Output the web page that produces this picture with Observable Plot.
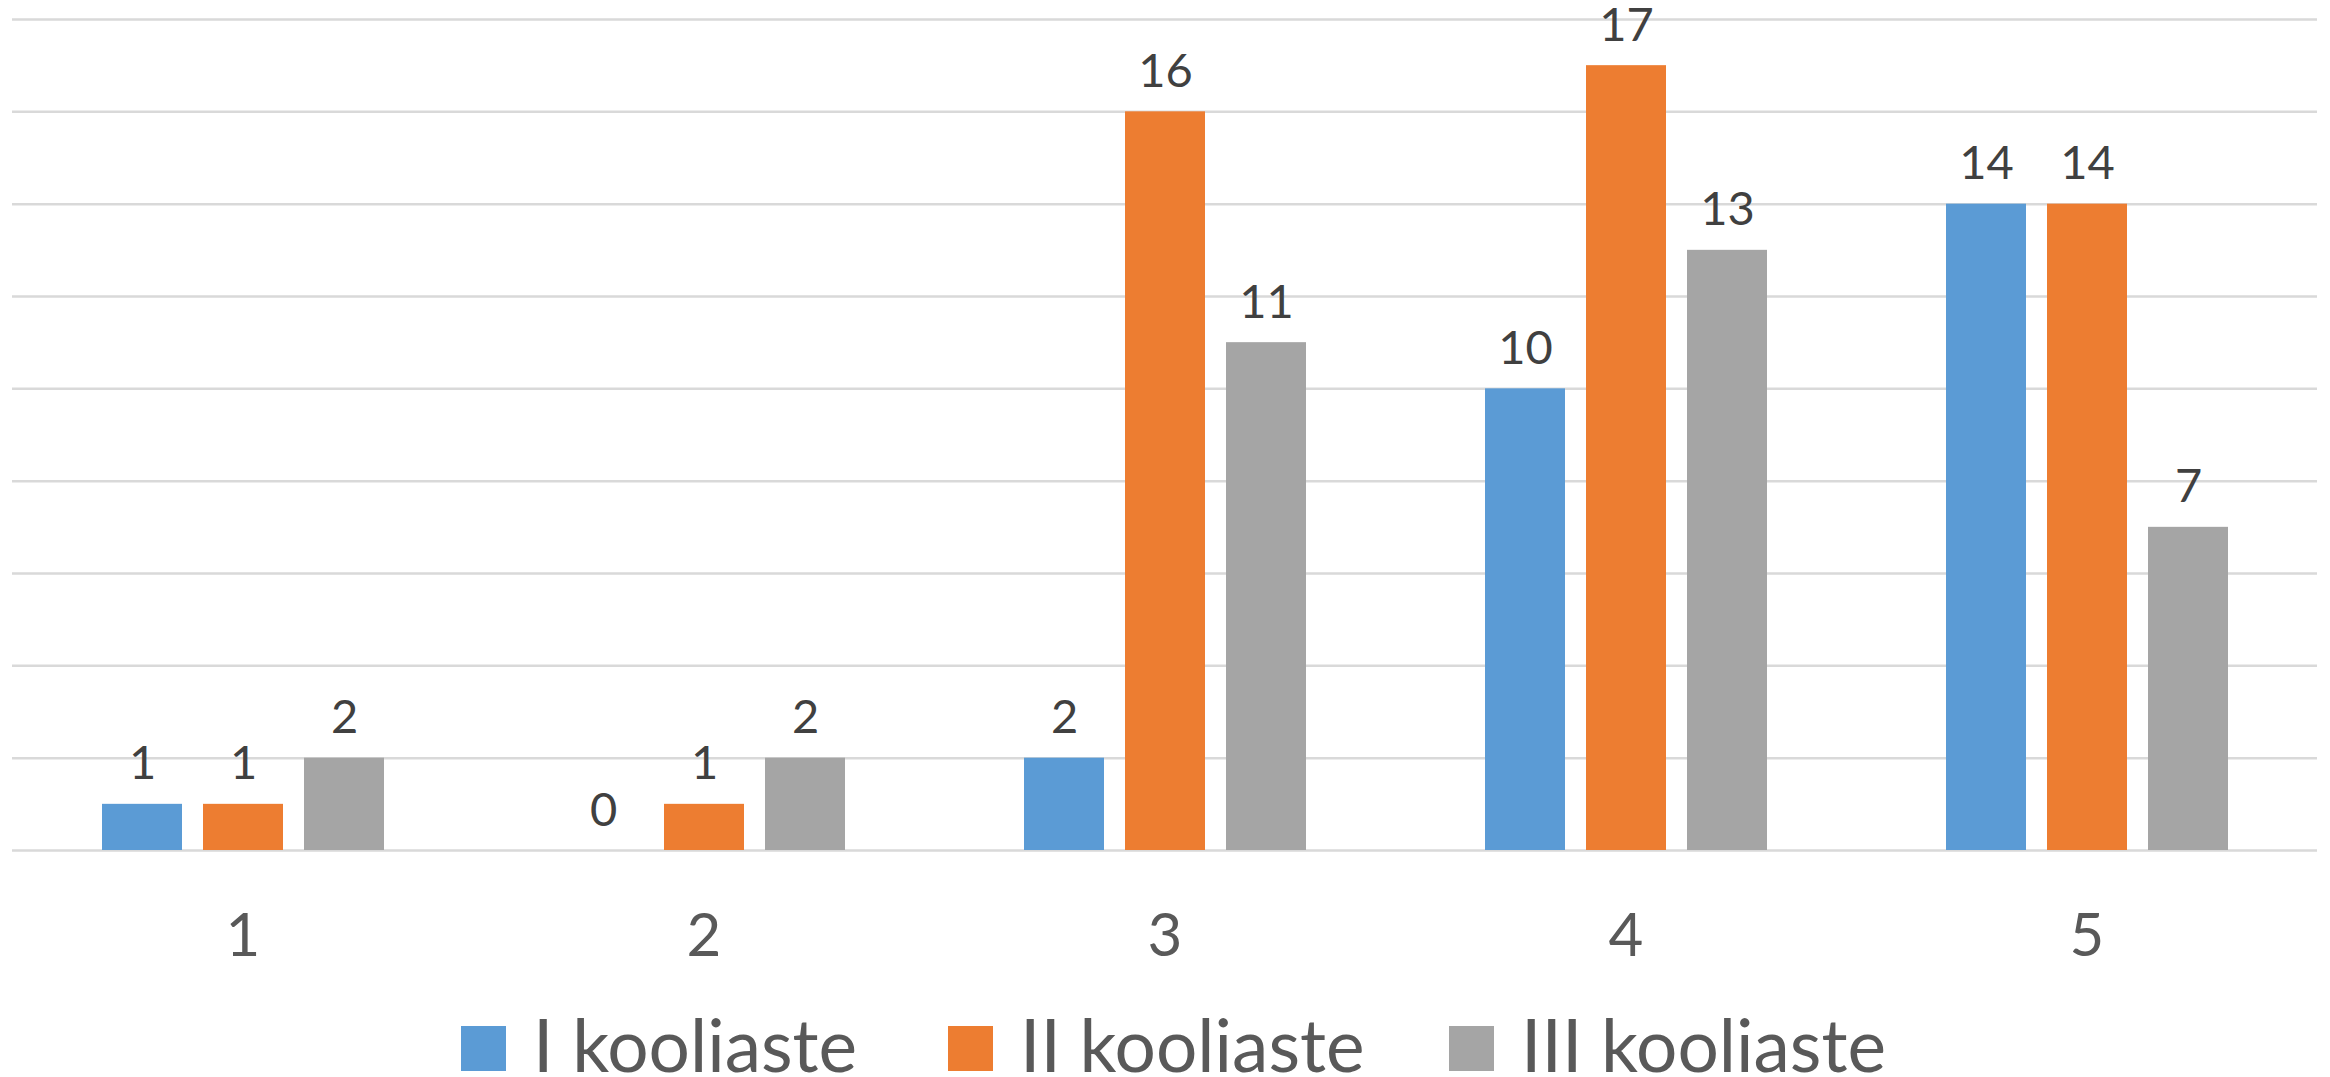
<!DOCTYPE html>
<html>
<head>
<meta charset="utf-8">
<script src="https://cdn.jsdelivr.net/npm/d3@7"></script>
<script src="https://cdn.jsdelivr.net/npm/@observablehq/plot@0.6"></script>
<style>
  html, body { margin: 0; padding: 0; background: #fff; }
  #wrap { position: relative; width: 2330px; height: 1077px; overflow: hidden; font-family: Lato, "Open Sans", sans-serif; }
  #legend { position: absolute; left: 0; top: 1000px; width: 2330px; height: 77px; }
  .item { position: absolute; top: 0; display: flex; align-items: flex-start; }
  .sw { width: 45px; height: 45px; margin-top: 26px; margin-right: 27px; }
  .lab { font-size: 73px; color: #595959; line-height: 60px; margin-top: 14px; white-space: nowrap; }
</style>
</head>
<body>
<div id="wrap">
  <div id="chart"></div>
  <div id="legend"></div>
</div>
<script>
const categories = ["1", "2", "3", "4", "5"];
const seriesNames = ["I kooliaste", "II kooliaste", "III kooliaste"];
const seriesI = [1, 0, 2, 10, 14];
const seriesII = [1, 1, 16, 17, 14];
const seriesIII = [2, 2, 11, 13, 7];
const colors = ["#5B9BD5", "#ED7D31", "#A5A5A5"];
const yTicks = [0, 2, 4, 6, 8, 10, 12, 14, 16, 18];

const allSeries = [seriesI, seriesII, seriesIII];
const data = [];
categories.forEach((c, i) => {
  seriesNames.forEach((s, j) => {
    data.push({cat: c, series: s, value: allSeries[j][i]});
  });
});

const chart = Plot.plot({
  width: 2330,
  height: 1000,
  marginLeft: 12,
  marginRight: 13,
  marginTop: 19,
  marginBottom: 150,
  style: {fontFamily: "Lato, 'Open Sans', sans-serif", background: "#fff", overflow: "visible"},
  fx: {domain: categories, paddingInner: 0, paddingOuter: 0, label: null},
  x: {domain: seriesNames, paddingInner: 0.208, paddingOuter: 0.886, axis: null},
  y: {domain: [0, 18], axis: null},
  color: {domain: seriesNames, range: colors},
  marks: [
    Plot.ruleY(yTicks, {stroke: "#d9d9d9", strokeWidth: 2.5, strokeOpacity: 1}),
    Plot.barY(data, {fx: "cat", x: "series", y: "value", fill: "series", insetLeft: 0, insetRight: 0}),
    Plot.text(data, {fx: "cat", x: "series", y: "value", text: d => String(d.value),
      fill: "#404040", fontSize: 47, lineAnchor: "bottom", dy: -25}),
    Plot.axisFx({tickSize: 0, tickPadding: 63, fontSize: 60, color: "#595959", label: null, anchor: "bottom"})
  ]
});
document.getElementById("chart").appendChild(chart);

const legendX = [461, 948, 1449];
const legend = document.getElementById("legend");
seriesNames.forEach((s, i) => {
  const item = document.createElement("div");
  item.className = "item";
  item.style.left = legendX[i] + "px";
  const sw = document.createElement("div");
  sw.className = "sw";
  sw.style.background = colors[i];
  const lab = document.createElement("div");
  lab.className = "lab";
  lab.textContent = s;
  item.appendChild(sw);
  item.appendChild(lab);
  legend.appendChild(item);
});
</script>
</body>
</html>
